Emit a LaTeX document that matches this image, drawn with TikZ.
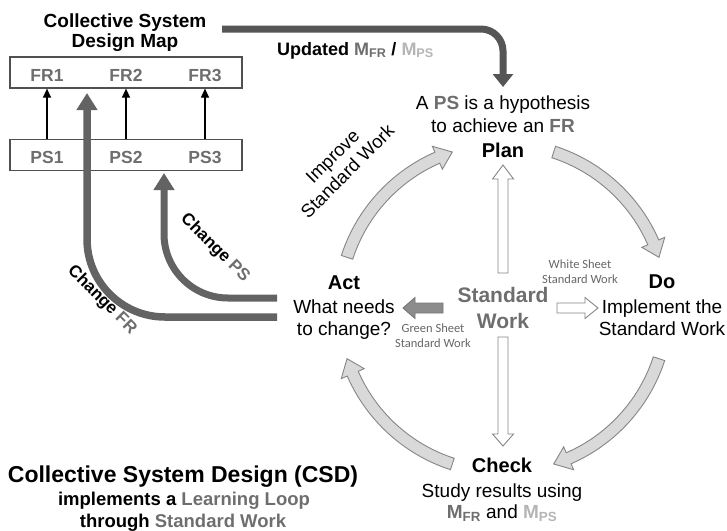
\documentclass[tikz,border=0pt]{standalone}
\usepackage{fontspec}
\setmainfont{Liberation Sans}
\newfontfamily\sheetfont{Carlito}
\usetikzlibrary{arrows.meta}

\definecolor{midgray}{HTML}{6E6E6E}
\definecolor{palegray}{HTML}{B5B5B5}
\definecolor{darkarrow}{HTML}{636363}
\definecolor{updarrow}{HTML}{555555}
\definecolor{loopfill}{HTML}{D9D9D9}
\definecolor{loopline}{HTML}{858585}
\definecolor{leftfill}{HTML}{8C8C8C}
\definecolor{boxline}{HTML}{505050}
\definecolor{sheettext}{HTML}{666666}

\newcommand\setfs[1]{\fontsize{#1}{1.2\dimexpr#1pt\relax}\selectfont}

\begin{document}
\begin{tikzpicture}[x=1pt,y=1pt,yscale=-1,
  lbl/.style={inner sep=0pt, anchor=base},
  head/.style={lbl, font=\bfseries\setfs{20}},
  body/.style={lbl, font=\setfs{19}},
  maplbl/.style={lbl, font=\bfseries\setfs{17.5}, text=midgray},
  mapbox/.style={draw=boxline, line width=1.2pt, minimum width=232pt,
    minimum height=31pt, inner sep=0pt},
  linkarrow/.style={line width=1.2pt, -{Triangle[width=8pt,length=9pt]}},
  bigarrow/.style={darkarrow, line width=7.5pt},
  loopstyle/.style={fill=loopfill, draw=loopline, line width=0.9pt, line join=miter},
  whitearrow/.style={fill=white, draw=loopline, line width=0.9pt},
  greenarrow/.style={fill=leftfill, draw=leftfill!85!black, line width=0.9pt},
  sheet/.style={lbl, font=\sheetfont\setfs{12.5}, text=sheettext},
  changelbl/.style={inner sep=0pt, font=\bfseries\setfs{17}, rotate=-45}]

\useasboundingbox (0,0) rectangle (727,530);

% ---------- design map ----------
\node[lbl, font=\bfseries\setfs{19}] (mapt1) at (125,27) {Collective System};
\node[lbl, font=\bfseries\setfs{19}] (mapt2) at (125,47) {Design Map};

\node[mapbox] (frbox) at (126,72.5) {};
\node[mapbox] (psbox) at (126,155) {};

\node[maplbl] (fr1) at (47,81) {FR1};
\node[maplbl] (fr2) at (126,81) {FR2};
\node[maplbl] (fr3) at (205,81) {FR3};
\node[maplbl] (ps1) at (47,163) {PS1};
\node[maplbl] (ps2) at (126,163) {PS2};
\node[maplbl] (ps3) at (205,163) {PS3};

\draw[linkarrow] (ps1 |- psbox.north) -- (fr1 |- frbox.south);
\draw[linkarrow] (ps2 |- psbox.north) -- (fr2 |- frbox.south);
\draw[linkarrow] (ps3 |- psbox.north) -- (fr3 |- frbox.south);

% ---------- feedback from Act to the map ----------
\coordinate (frfrom) at (277,317);
\coordinate (frto) at (87,93);
\coordinate (psfrom) at (277,298);
\coordinate (psto) at (164,173);
\draw[bigarrow, rounded corners=78pt, -{Triangle[width=20pt,length=17pt]}] (frfrom) -| (frto);
\draw[bigarrow, line width=7pt, rounded corners=64pt, -{Triangle[width=20pt,length=17pt]}] (psfrom) -| (psto);

\node[changelbl] (chfr) at (102,300) {Change \textcolor{midgray}{FR}};
\node[changelbl] (chps) at (215,248) {Change \textcolor{midgray}{PS}};

% ---------- update of the map into Plan ----------
\coordinate (updfrom) at (222,29);
\coordinate (updto) at (503,87);
\draw[updarrow, line width=7pt, rounded corners=22pt, -{Triangle[width=20pt,length=13pt]}] (updfrom) -| (updto);
\node[lbl, anchor=base west, font=\bfseries\setfs{18}] (updlbl) at (277,55)
  {Updated \textcolor{midgray}{M\textsubscript{FR}} / \textcolor{palegray}{M\textsubscript{PS}}};

% ---------- PDCA texts ----------
\node[body] (hyp1) at (503,109) {A \textbf{\textcolor{midgray}{PS}} is a hypothesis};
\node[body] (hyp2) at (503,132) {to achieve an \textbf{\textcolor{midgray}{FR}}};
\node[head] (plan) at (503,157) {Plan};

\node[head] (act) at (344,289) {Act};
\node[body] (act1) at (344,313) {What needs};
\node[body] (act2) at (344,335) {to change?};

\node[head] (do) at (662,288) {Do};
\node[body] (do1) at (662,313) {Implement the};
\node[body] (do2) at (662,335) {Standard Work};

\node[head] (check) at (502,472) {Check};
\node[body] (chk1) at (502,497) {Study results using};
\node[body] (chk2) at (502,518) {\textbf{\textcolor{midgray}{M\textsubscript{FR}}} and \textbf{\textcolor{palegray}{M\textsubscript{PS}}}};

\node[lbl, font=\bfseries\setfs{21}, text=midgray] (sw1) at (503,302) {Standard};
\node[lbl, font=\bfseries\setfs{21}, text=midgray] (sw2) at (503,328) {Work};

\node[sheet] (ws1) at (580,268) {White Sheet};
\node[sheet] (ws2) at (580,283) {Standard Work};
\node[sheet] (gs1) at (433,332) {Green Sheet};
\node[sheet] (gs2) at (433,347) {Standard Work};

\node[inner sep=0pt, font=\setfs{18.5}, align=center, rotate=45] (improve)
  at (340,164) {Improve\\[-1pt]Standard Work};

% ---------- loop arrows around Standard Work ----------
\begin{scope}[shift={(503,308)}]
  \foreach \a/\t in {-162/-108, -72/-18, 18/72, 108/162} {
    \pgfmathsetmacro\hb{\t-5.6}
    \filldraw[loopstyle] (\a:170) arc[start angle=\a, end angle=\hb, radius=170]
      -- (\hb:176.5) -- (\t:164) -- (\hb:151.5) -- (\hb:158)
      arc[start angle=\hb, end angle=\a, radius=158] -- cycle;
  }
\end{scope}

% ---------- block arrows out of Standard Work ----------
\filldraw[whitearrow] (498,273) -- (498,179) -- (492.5,179) -- (503,165)
  -- (513.5,179) -- (508,179) -- (508,273) -- cycle;
\filldraw[whitearrow] (498,337) -- (498,434) -- (492.5,434) -- (503,446)
  -- (513.5,434) -- (508,434) -- (508,337) -- cycle;
\filldraw[whitearrow] (557,303) -- (585,303) -- (585,297.5) -- (598,308)
  -- (585,318.5) -- (585,313) -- (557,313) -- cycle;
\filldraw[greenarrow] (443,303) -- (415,303) -- (415,297.5) -- (403,308)
  -- (415,318.5) -- (415,313) -- (443,313) -- cycle;

% ---------- caption ----------
\node[lbl, font=\bfseries\setfs{23}] (cap1) at (183,482) {Collective System Design (CSD)};
\node[lbl, font=\bfseries\setfs{18.5}] (cap2) at (184,505)
  {implements a \textcolor{midgray}{Learning Loop}};
\node[lbl, font=\bfseries\setfs{18.5}] (cap3) at (183,527)
  {through \textcolor{midgray}{Standard Work}};

\end{tikzpicture}
\end{document}
